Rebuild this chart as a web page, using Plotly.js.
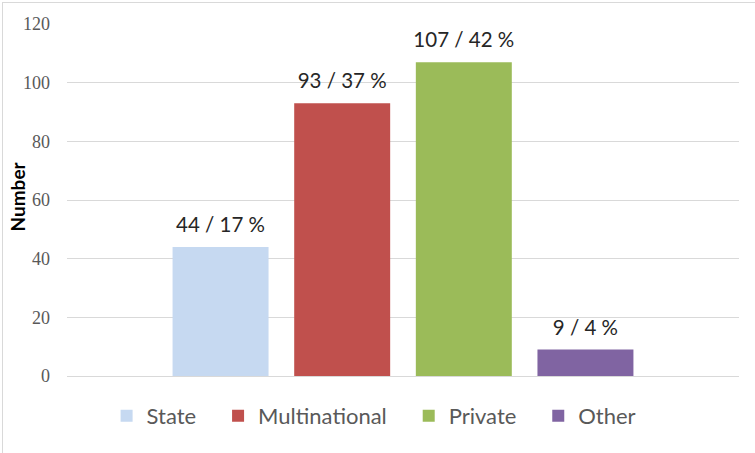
<!DOCTYPE html>
<html>
<head>
<meta charset="utf-8">
<script src="https://cdn.plot.ly/plotly-3.0.1.min.js"></script>
<style>
html,body{margin:0;padding:0;background:#fff;}
#wrap{position:relative;width:755px;height:453px;overflow:hidden;}
#chart{width:755px;height:453px;}
#frame{position:absolute;left:2px;top:2px;width:800px;height:500px;border:1.5px solid #d9d9d9;pointer-events:none;box-sizing:border-box;}
</style>
</head>
<body>
<div id="wrap"><div id="chart"></div><div id="frame"></div></div>
<script>
const seriesNames = ["State", "Multinational", "Private", "Other"];
const counts = [44, 93, 107, 9];
const percents = [17, 37, 42, 4];
const colors = ["#C6D9F1", "#C0504D", "#9BBB59", "#8064A2"];
const yTicks = [0, 20, 40, 60, 80, 100, 120];
const yTitle = "Number";

const GAP = 0.276;
const sans = "Lato, Open Sans, Liberation Sans, sans-serif";
const PAD = "\u00a0\u00a0\u00a0";

const bars = seriesNames.map((name, i) => ({
  type: "bar",
  name: i < seriesNames.length - 1 ? name + PAD : name,
  x: [""],
  y: [counts[i]],
  offsetgroup: "g" + i,
  alignmentgroup: "a",
  marker: {color: colors[i]},
  hoverinfo: "none"
}));

const labels = seriesNames.map((name, i) => ({
  type: "scatter",
  mode: "markers+text",
  name: name + " label",
  showlegend: false,
  x: [""],
  y: [counts[i]],
  offsetgroup: "g" + i,
  alignmentgroup: "a",
  text: [counts[i] + " / " + percents[i] + " %"],
  textposition: "top center",
  textfont: {family: sans, size: 20.5, color: "#262626"},
  marker: {size: 14, color: "rgba(0,0,0,0)"},
  cliponaxis: false,
  hoverinfo: "none"
}));

const layout = {
  width: 755, height: 453,
  margin: {l: 67, r: 16, t: 24, b: 77, autoexpand: false},
  paper_bgcolor: "rgba(0,0,0,0)",
  plot_bgcolor: "#fff",
  barmode: "group",
  bargap: GAP,
  bargroupgap: 0.211,
  scattermode: "group",
  scattergap: GAP,
  showlegend: true,
  legend: {
    orientation: "h", x: 0.457, xanchor: "center", y: -0.054, yanchor: "top",
    font: {family: sans, size: 22, color: "#595959"},
    itemwidth: 30, traceorder: "normal"
  },
  xaxis: {showticklabels: false, showgrid: false, zeroline: false, showline: false, fixedrange: true},
  yaxis: {
    range: [0, 120], tickvals: yTicks, ticktext: yTicks.map(String),
    showgrid: true, gridcolor: "#d9d9d9", gridwidth: 1,
    zeroline: true, zerolinecolor: "#d9d9d9", zerolinewidth: 1,
    showline: false, ticks: "", ticklen: 0, ticklabelstandoff: 16,
    tickfont: {family: "Liberation Serif, DejaVu Serif, serif", size: 18, color: "#595959"}
  },
  annotations: [{
    text: "<b>" + yTitle + "</b>", textangle: -90,
    xref: "paper", yref: "paper", x: -0.0744, y: 0.51,
    xanchor: "center", yanchor: "middle", showarrow: false,
    font: {family: sans, size: 19, color: "#000"}
  }]
};

Plotly.newPlot("chart", bars.concat(labels), layout, {displayModeBar: false, staticPlot: true});
</script>
</body>
</html>
